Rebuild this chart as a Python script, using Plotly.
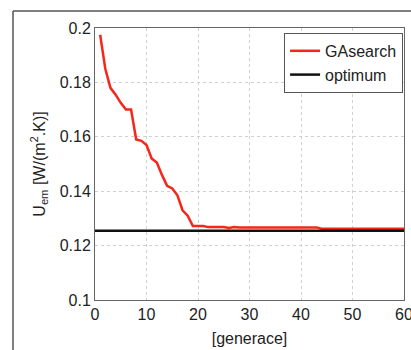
import plotly.graph_objects as go

generations = list(range(1, 61))
ga_values = [0.1975, 0.185, 0.178, 0.1755, 0.1725, 0.170, 0.170, 0.159, 0.1585, 0.157,
             0.152, 0.1505, 0.146, 0.142, 0.141, 0.1385, 0.133, 0.131, 0.1272, 0.1272,
             0.1272, 0.1268, 0.1268, 0.1268, 0.1268, 0.1265, 0.1268, 0.1267, 0.1267, 0.1267,
             0.1267, 0.1267, 0.1267, 0.1267, 0.1267, 0.1267, 0.1267, 0.1267, 0.1267, 0.1267,
             0.1267, 0.1267, 0.1267, 0.1262, 0.1262, 0.1262, 0.1262, 0.1262, 0.1262, 0.1262,
             0.1262, 0.1262, 0.1262, 0.1262, 0.1262, 0.1262, 0.1262, 0.1262, 0.1262, 0.1262]
optimum_x = [0, 60]
optimum_values = [0.1255, 0.1255]
x_ticks = [0, 10, 20, 30, 40, 50, 60]
y_ticks = [0.1, 0.12, 0.14, 0.16, 0.18, 0.2]
y_tick_labels = ["0.1", "0.12", "0.14", "0.16", "0.18", "0.2"]

FONT = "Liberation Sans, Arial, sans-serif"

W, H = 411, 350
ML, MR, MT, MB = 95, 7, 28, 50
PW, PH = W - ML - MR, H - MT - MB

fig = go.Figure()
fig.add_trace(go.Scatter(x=generations, y=ga_values, mode="lines", name="GAsearch",
                         line=dict(color="#f5261a", width=2.5)))
fig.add_trace(go.Scatter(x=optimum_x, y=optimum_values, mode="lines", name="optimum",
                         line=dict(color="#111111", width=2.5)))

axis_common = dict(showline=True, linecolor="#666666", linewidth=1, mirror=True,
                   showgrid=True, gridcolor="#d0d0d0", griddash="dot", gridwidth=1,
                   ticks="", zeroline=False, automargin=False, ticklabeloverflow="allow",
                   tickfont=dict(family=FONT, size=16, color="#222222"))

frame_x = (13 - ML) / PW
frame_y = 1 + (MT - 11) / PH

fig.update_layout(
    width=W, height=H,
    margin=dict(l=ML, r=MR, t=MT, b=MB),
    paper_bgcolor="white", plot_bgcolor="white",
    font=dict(family=FONT, size=16, color="#222222"),
    xaxis=dict(range=[0, 60], tickvals=x_ticks, **axis_common,
               title=dict(text="[generace]", font=dict(family=FONT, size=16), standoff=10)),
    yaxis=dict(range=[0.1, 0.2], tickvals=y_ticks, ticktext=y_tick_labels, **axis_common,
               title=dict(text="U<sub>em</sub> [W/(m<sup>2</sup>.K)]",
                          font=dict(family=FONT, size=16), standoff=10)),
    legend=dict(x=0.997, y=0.982, xanchor="right", yanchor="top",
                bgcolor="white", bordercolor="#555555", borderwidth=1,
                font=dict(family=FONT, size=16, color="#222222"),
                itemwidth=30, tracegroupgap=0),
    showlegend=True,
    shapes=[
        dict(type="line", xref="paper", yref="paper",
             x0=frame_x, x1=frame_x, y0=frame_y, y1=-MB / PH - 0.05,
             line=dict(color="#555555", width=1.5)),
        dict(type="line", xref="paper", yref="paper",
             x0=frame_x, x1=1 + (MR + 5) / PW, y0=frame_y, y1=frame_y,
             line=dict(color="#555555", width=1.5)),
    ],
)

fig.write_html("out.html", config={"displayModeBar": False},
               post_script="document.body.style.margin='0';document.body.style.overflow='hidden';")
